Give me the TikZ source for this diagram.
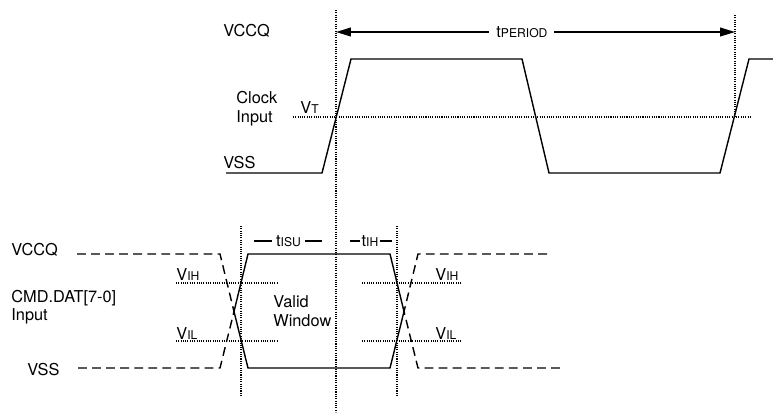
\documentclass[tikz,border=0pt]{standalone}
\usepackage{fontspec}
\setmainfont{TeX Gyre Heros}
\usetikzlibrary{arrows.meta}
\newcommand{\lo}[1]{{\fontsize{6.9}{7.5}\selectfont #1}}

\begin{document}
\begin{tikzpicture}[x=0.02cm, y=-0.02cm, font=\fontsize{9.3}{11}\selectfont,
  wave/.style={line width=0.8pt, line join=miter},
  dontcare/.style={line width=0.8pt, dash pattern=on 5pt off 3pt},
  level/.style={line width=0.6pt, dash pattern=on 0.6pt off 0.7pt},
  lbl/.style={anchor=base west, inner sep=0pt}]

\useasboundingbox (0,0) rectangle (773,414);

% clock input
\node[lbl] (vccqtop) at (223,36) {VCCQ};
\node[lbl] (clock) at (236,103) {Clock};
\node[lbl] (clkin) at (236,122) {Input};
\node[lbl] (vt) at (300,113) {V\lo{T}};
\node[lbl] (vsstop) at (223,168) {VSS};

\draw[level] (293,117) -- (750,117);
\draw[level] (336,10) coordinate (c0) -- (336,412);
\draw[level] (735,15) coordinate (c1) -- (735,117);

\draw[wave] (226,173) -- (322,173) -- (351,59) -- (522,59) -- (549,173)
  -- (720,173) -- (749,59) -- (773,59);

\path (336,32) coordinate (pl) (735,32) coordinate (pr);
\draw[{Triangle[length=8.5pt,width=5pt]}-{Triangle[length=8.5pt,width=5pt]}, line width=0.8pt]
  (pl) -- node[pos=0.466, fill=white, inner xsep=4pt] (tper) {t\lo{PERIOD}} (pr);

% data input
\node[lbl] (vccqbot) at (11,255) {VCCQ};
\node[lbl] (cmd) at (11,302) {CMD.DAT[7-0]};
\node[lbl] (cmdin) at (11,320) {Input};
\node[lbl] (vssbot) at (27,375) {VSS};

\node[lbl] (vihl) at (176,280) {V\lo{IH}};
\node[lbl] (vill) at (176,339) {V\lo{IL}};
\node[lbl] (vihr) at (435,280) {V\lo{IH}};
\node[lbl] (vilr) at (435,339) {V\lo{IL}};

\foreach \y in {283,341} {
  \draw[level] (176,\y) -- (277,\y);
  \draw[level] (362,\y) -- (462,\y);
}
\draw[level] (241,226) -- (241,397);
\draw[level] (397,226) -- (397,397);

\draw[dontcare] (77,254) -- (220,254) -- (234,311.5) -- (220,368) -- (77,368);
\draw[dontcare] (547,254) -- (418,254) -- (404,311.5) -- (418,368) -- (562,368);
\draw[wave] (234,311.5) -- (248,254) -- (390,254) -- (404,311.5) -- (390,368)
  -- (248,368) -- cycle;

\node[lbl] (valid) at (273,307) {Valid};
\node[lbl] (window) at (273,326) {Window};

% setup / hold
\node[inner xsep=2.4pt, inner ysep=0pt] (tisu) at (288.5,241) {t\lo{ISU}};
\draw[line width=0.6pt] (254,241) -- (tisu.west) (tisu.east) -- (322,241);
\node[inner xsep=0.8pt, inner ysep=0pt] (tih) at (370,241) {t\lo{IH}};
\draw[line width=0.6pt] (350,241) -- (tih.west) (tih.east) -- (392,241);

\end{tikzpicture}
\end{document}
